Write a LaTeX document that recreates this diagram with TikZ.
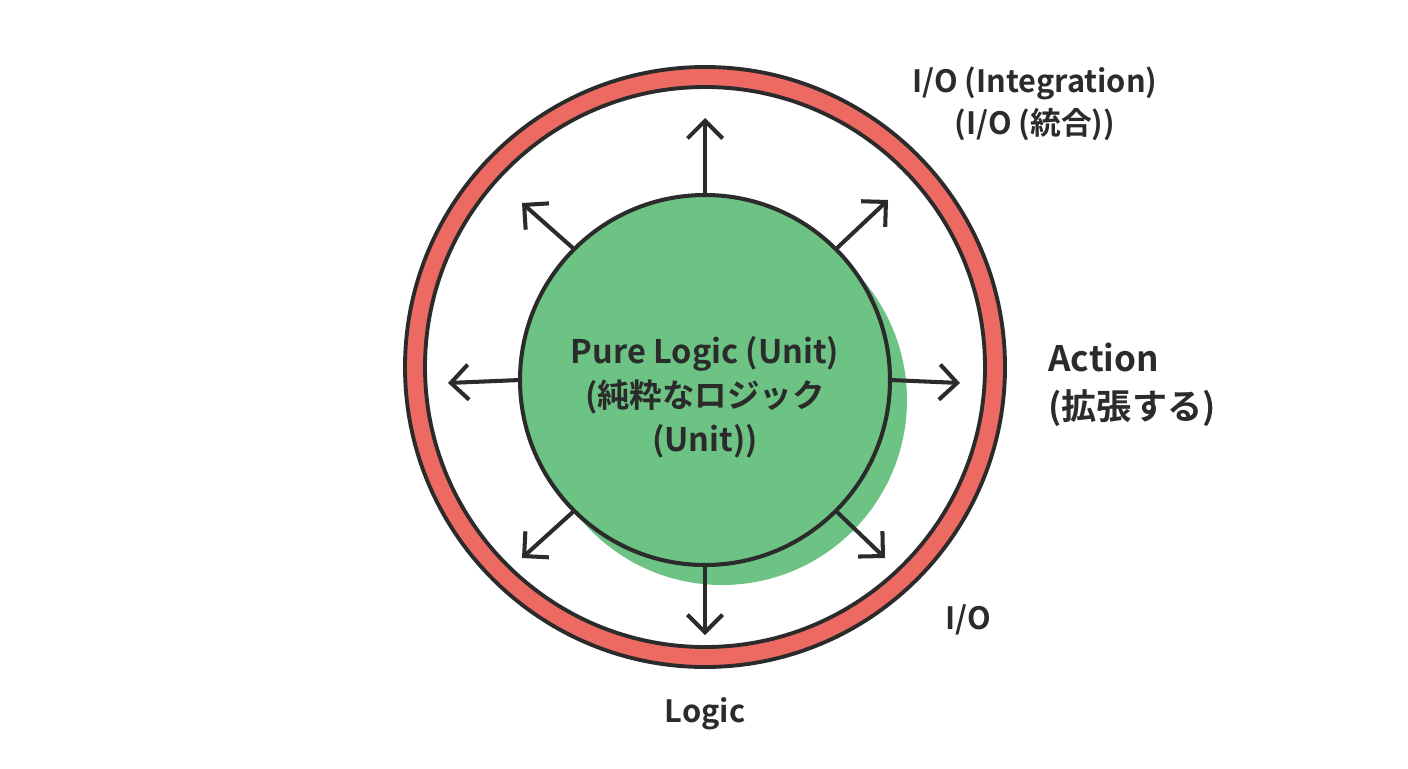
\documentclass[tikz,border=0pt]{standalone}
\usepackage{fontspec}
\setmainfont{Noto Sans CJK JP}[BoldFont={* Bold}]
\usetikzlibrary{arrows.meta,calc}
\definecolor{ringred}{HTML}{EC6A62}
\definecolor{dk}{HTML}{2B2B2B}
\definecolor{gr}{HTML}{6CC383}
\begin{document}
\begin{tikzpicture}[x=0.02cm,y=-0.02cm,
  arr/.style={draw=dk,line width=2.3pt,-{Straight Barb[length=10pt,width=20pt,line width=2.3pt]}},
  lbl/.style={font=\fontsize{17.5}{24}\selectfont\bfseries,text=dk,align=center}]
\useasboundingbox[fill=white] (0,0) rectangle (1408,768);
% ring
\draw[ringred,line width=11pt] (705,367) circle (290);
\draw[dk,line width=2.2pt] (705,367) circle (300);
\draw[dk,line width=2.2pt] (705,367) circle (280);
% shadow + green
\fill[gr] (722,400) circle (185);
\node[circle,draw=dk,line width=2.3pt,fill=gr,minimum size=370*0.02cm,inner sep=0] (c) at (705,380) {};
\node[lbl,font=\fontsize{18.5}{25}\selectfont\bfseries] at (705,397) {Pure Logic (Unit)\\(純粋なロジック\\(Unit))};
% arrows
\foreach \a/\n in {90/t,0/r,180/l,270/b,45/a,135/b2,225/c2,315/d}{
  \coordinate (s\n) at ($(c)+(\a:185*0.02cm)$);
}
\coordinate (et) at (705,118);
\coordinate (er) at (960,383);
\coordinate (el) at (448,383);
\coordinate (eb) at (705,635);
\coordinate (ea) at (888,200);
\coordinate (eb2) at (522,203);
\coordinate (ec2) at (522,558);
\coordinate (ed) at (885,558);
\foreach \n in {t,r,l,b,a,b2,c2,d}{\draw[arr] (s\n) -- (e\n);}
% labels
\node[lbl] (io1) at (1035,104) {I/O (Integration)\\(I/O (統合))};
\node[lbl,font=\fontsize{20}{27}\selectfont\bfseries,align=left] (act) at (1132,385) {Action\\(拡張する)};
\node[lbl] (io2) at (968,620) {I/O};
\node[lbl] (lg) at (705,714) {Logic};
\end{tikzpicture}
\end{document}
